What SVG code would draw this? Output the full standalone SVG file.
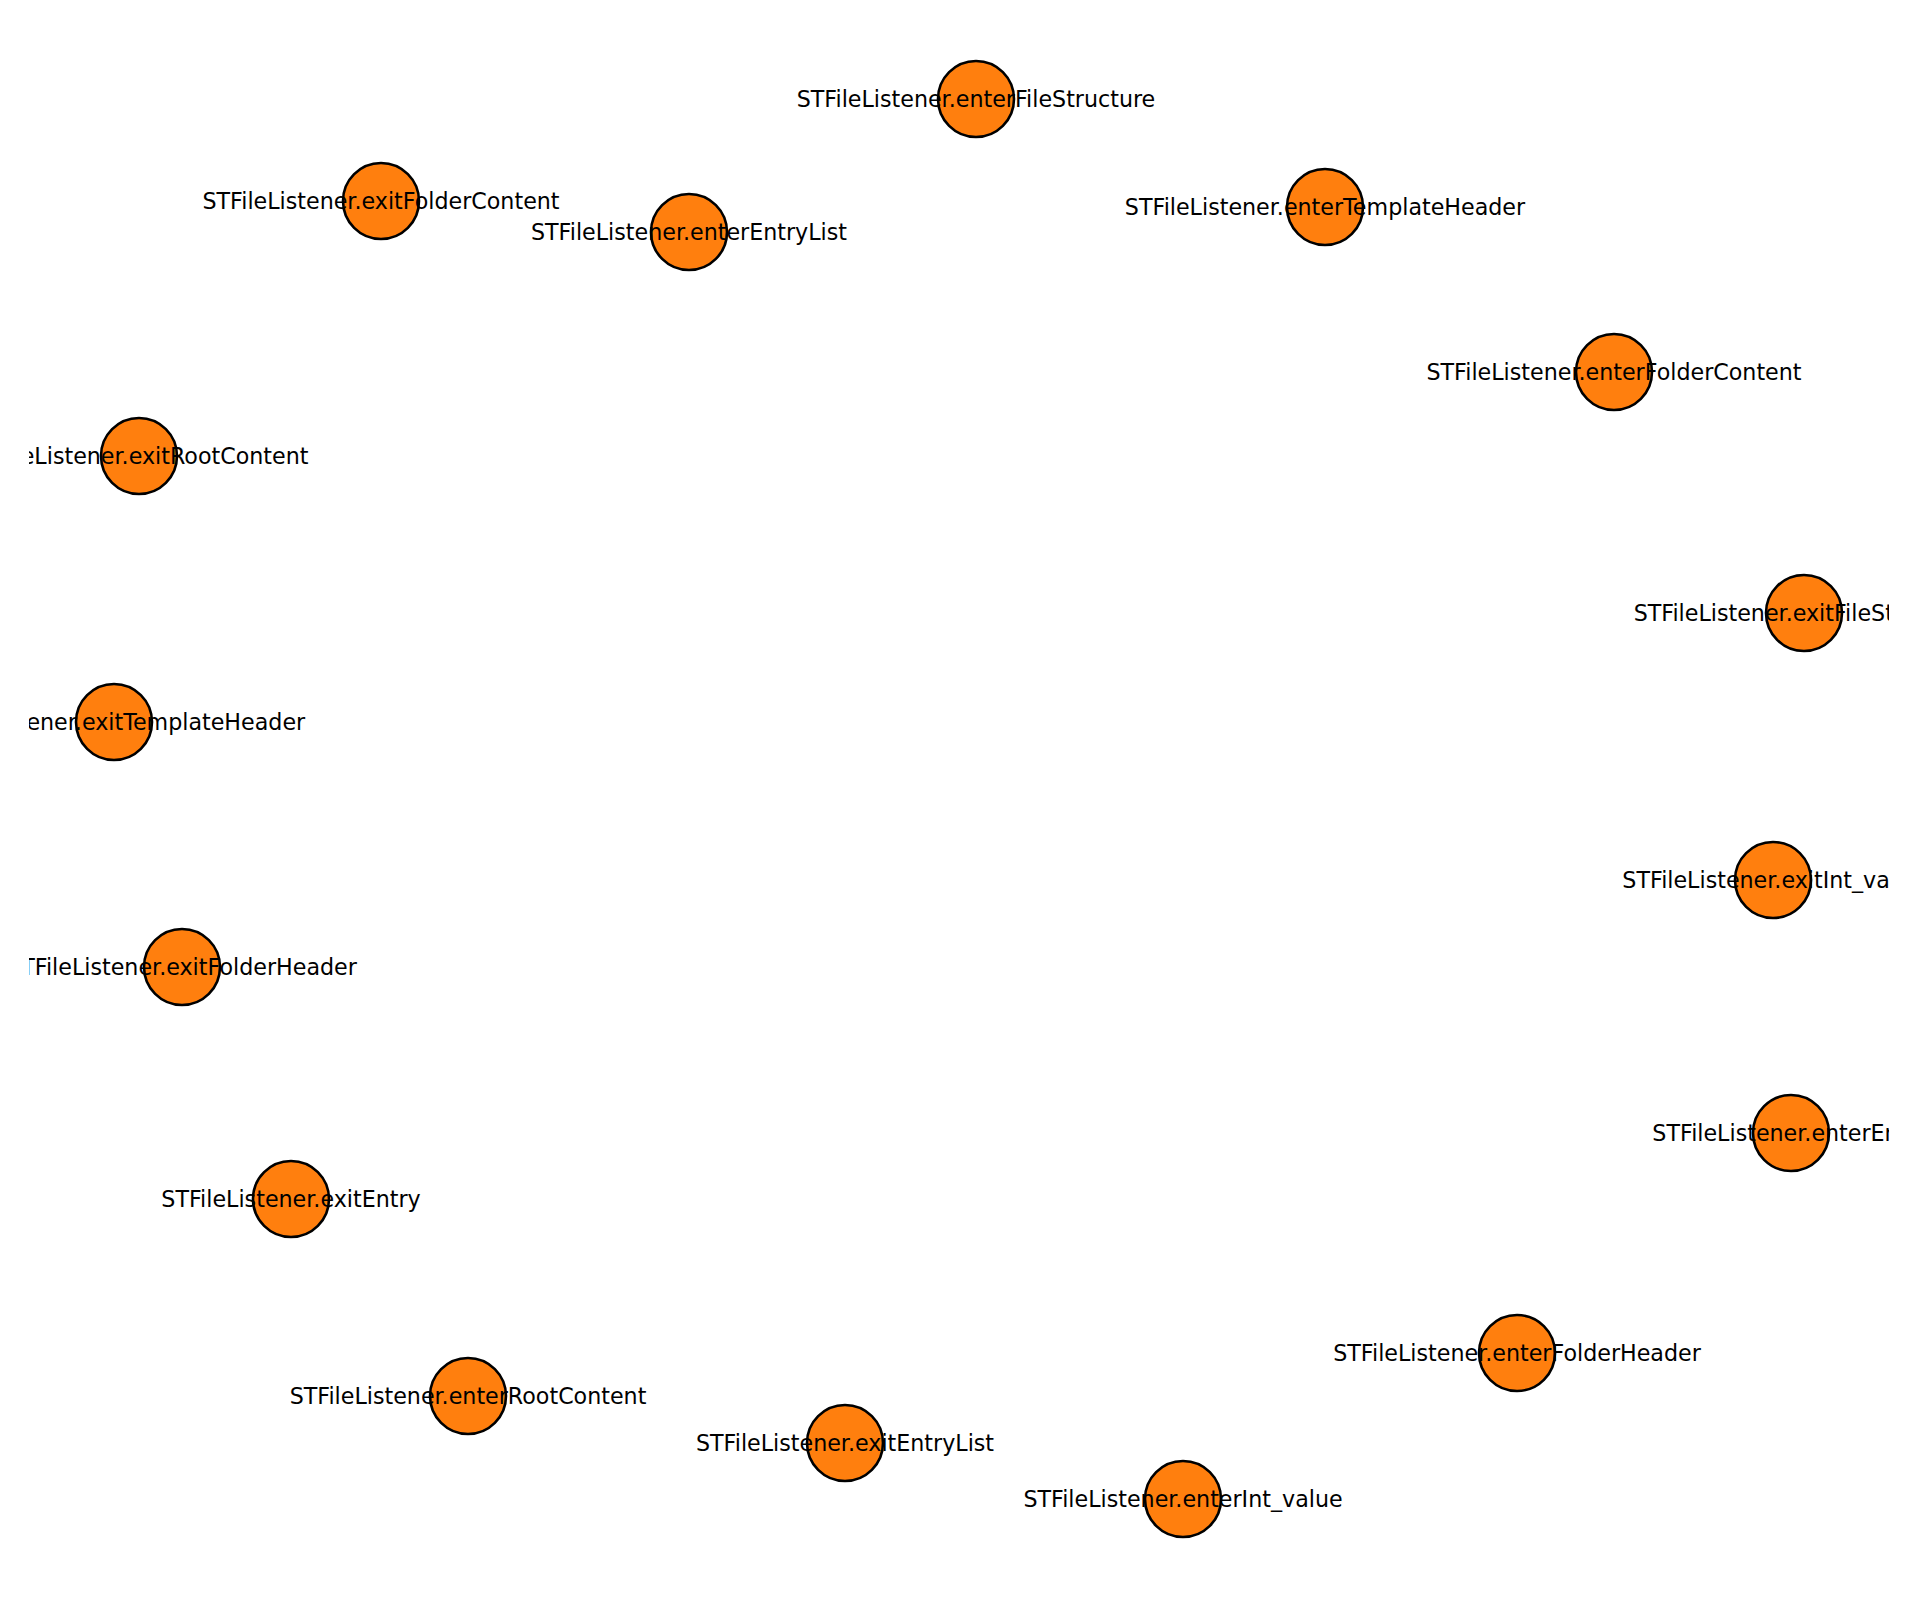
<svg xmlns="http://www.w3.org/2000/svg" width="1920" height="1600" viewBox="0 0 1920 1600">
  <defs>
    <!-- plotting area: labels are cut at its left and right edges -->
    <clipPath id="plotArea">
      <rect x="29" y="0" width="1860" height="1600"/>
    </clipPath>
  </defs>
  <style>
    .node circle { fill: #ff7f0e; stroke: #000000; stroke-width: 2.6; }
    .node text { font-family: "DejaVu Sans", "Liberation Sans", sans-serif; font-size: 22.2px; fill: #000000; text-anchor: middle; }
  </style>
  <rect x="0" y="0" width="1920" height="1600" fill="#ffffff"/>
  <!-- no edges in this graph -->
  <g id="edges"/>
  <g id="nodes" clip-path="url(#plotArea)">
    <g id="n-enterFileStructure" class="node"><circle cx="976" cy="99" r="38"/><text x="976" y="107">STFileListener.enterFileStructure</text></g>
    <g id="n-exitFolderContent" class="node"><circle cx="381" cy="201" r="38"/><text x="381" y="209">STFileListener.exitFolderContent</text></g>
    <g id="n-enterEntryList" class="node"><circle cx="689" cy="232" r="38"/><text x="689" y="240">STFileListener.enterEntryList</text></g>
    <g id="n-enterTemplateHeader" class="node"><circle cx="1325" cy="207" r="38"/><text x="1325" y="215">STFileListener.enterTemplateHeader</text></g>
    <g id="n-enterFolderContent" class="node"><circle cx="1614" cy="372" r="38"/><text x="1614" y="380">STFileListener.enterFolderContent</text></g>
    <g id="n-exitRootContent" class="node"><circle cx="139" cy="456" r="38"/><text x="139" y="464">STFileListener.exitRootContent</text></g>
    <g id="n-exitFileStructure" class="node"><circle cx="1804" cy="613" r="38"/><text x="1804" y="621">STFileListener.exitFileStructure</text></g>
    <g id="n-exitTemplateHeader" class="node"><circle cx="114" cy="722" r="38"/><text x="114" y="730">STFileListener.exitTemplateHeader</text></g>
    <g id="n-exitInt_value" class="node"><circle cx="1773" cy="880" r="38"/><text x="1773" y="888">STFileListener.exitInt_value</text></g>
    <g id="n-exitFolderHeader" class="node"><circle cx="182" cy="967" r="38"/><text x="182" y="975">STFileListener.exitFolderHeader</text></g>
    <g id="n-enterEntry" class="node"><circle cx="1791" cy="1133" r="38"/><text x="1791" y="1141">STFileListener.enterEntry</text></g>
    <g id="n-exitEntry" class="node"><circle cx="291" cy="1199" r="38"/><text x="291" y="1207">STFileListener.exitEntry</text></g>
    <g id="n-enterFolderHeader" class="node"><circle cx="1517" cy="1353" r="38"/><text x="1517" y="1361">STFileListener.enterFolderHeader</text></g>
    <g id="n-enterRootContent" class="node"><circle cx="468" cy="1396" r="38"/><text x="468" y="1404">STFileListener.enterRootContent</text></g>
    <g id="n-exitEntryList" class="node"><circle cx="845" cy="1443" r="38"/><text x="845" y="1451">STFileListener.exitEntryList</text></g>
    <g id="n-enterInt_value" class="node"><circle cx="1183" cy="1499" r="38"/><text x="1183" y="1507">STFileListener.enterInt_value</text></g>
  </g>
</svg>
